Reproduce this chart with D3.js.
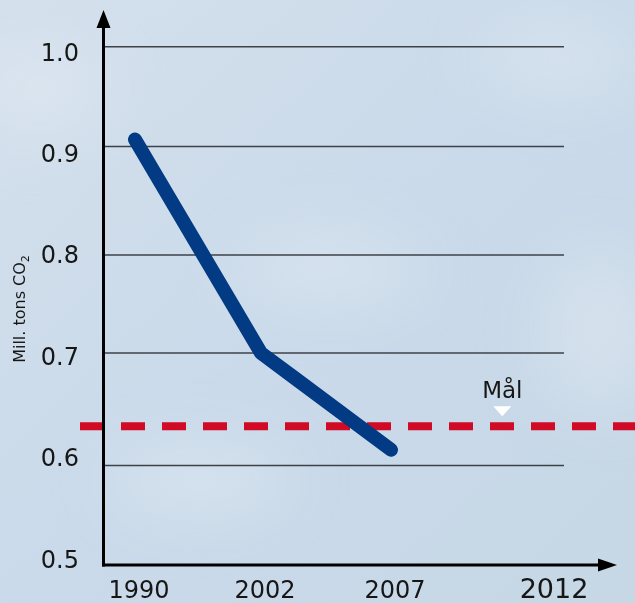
<!DOCTYPE html>
<html>
<head>
<meta charset="utf-8">
<script src="https://cdn.jsdelivr.net/npm/d3@7"></script>
<style>
  body { margin: 0; padding: 0; }
  svg { display: block; }
  text { font-family: "DejaVu Sans", sans-serif; fill: #161616; }
</style>
</head>
<body>
<div id="chart"></div>
<script>
var width = 635;
var height = 603;

// data
var years = [1990, 2002, 2007];
var emissions = [0.907, 0.70, 0.614];
var yearLabels = ["1990", "2002", "2007", "2012"];
var yTicks = [0.5, 0.6, 0.7, 0.8, 0.9, 1.0];
var target = 0.635;
var targetLabel = "Mål";
var targetLabelYear = 2010.5;

// the original artwork is hand placed, so the scales are piecewise
var x = d3.scaleLinear()
    .domain([1990, 2002, 2007, 2012])
    .range([135, 261, 391, 550]);
var y = d3.scaleLinear()
    .domain(yTicks)
    .range([565, 465.5, 353, 255, 146.5, 46.7]);
// tick labels sit evenly spaced, not exactly on the grid lines
var yLabel = d3.scaleLinear()
    .domain([0.5, 1.0])
    .range([559, 52]);

var svg = d3.select('#chart')
    .append('svg')
    .attr('width', width)
    .attr('height', height);

// sky background
var defs = svg.append('defs');
var bg = defs.append('linearGradient')
    .attr('id', 'sky')
    .attr('x1', 0).attr('y1', 0).attr('x2', 1).attr('y2', 1);
bg.append('stop').attr('offset', '0%').attr('stop-color', '#d4e0ec');
bg.append('stop').attr('offset', '50%').attr('stop-color', '#cadaea');
bg.append('stop').attr('offset', '100%').attr('stop-color', '#c6d7e6');
var blur = defs.append('filter').attr('id', 'soft')
    .attr('x', '-50%').attr('y', '-50%').attr('width', '200%').attr('height', '200%');
blur.append('feGaussianBlur').attr('stdDeviation', 30);

svg.append('rect')
    .attr('width', width)
    .attr('height', height)
    .attr('fill', 'url(#sky)');

var clouds = [[40, 90, 70, 50], [330, 270, 90, 40], [560, 60, 80, 40], [200, 480, 90, 40], [600, 330, 60, 80]];
svg.append('g')
    .attr('filter', 'url(#soft)')
    .selectAll('ellipse')
    .data(clouds)
    .enter().append('ellipse')
    .attr('cx', function (d) { return d[0]; })
    .attr('cy', function (d) { return d[1]; })
    .attr('rx', function (d) { return d[2]; })
    .attr('ry', function (d) { return d[3]; })
    .attr('fill', '#e6eef6')
    .attr('opacity', 0.4);

// grid lines
svg.append('g')
    .selectAll('line')
    .data(yTicks.slice(1))
    .enter().append('line')
    .attr('x1', 103)
    .attr('x2', 564)
    .attr('y1', function (d) { return y(d); })
    .attr('y2', function (d) { return y(d); })
    .attr('stroke', '#3c4248')
    .attr('stroke-width', 1.4);

// y tick labels
svg.append('g')
    .selectAll('text')
    .data(yTicks)
    .enter().append('text')
    .attr('x', 79)
    .attr('y', function (d) { return yLabel(d); })
    .attr('dy', '0.36em')
    .attr('text-anchor', 'end')
    .attr('font-size', 24)
    .text(function (d) { return d.toFixed(1); });

// x labels
svg.append('g')
    .selectAll('text')
    .data(yearLabels)
    .enter().append('text')
    .attr('x', function (d) { return x(+d) + 4; })
    .attr('y', 598)
    .attr('text-anchor', 'middle')
    .attr('font-size', function (d, i) { return i === yearLabels.length - 1 ? 27 : 24; })
    .text(function (d) { return d; });

// y axis title
var title = svg.append('text')
    .attr('transform', 'translate(25,309) rotate(-90)')
    .attr('text-anchor', 'middle')
    .attr('font-size', 16);
title.append('tspan').text('Mill. tons CO');
title.append('tspan').attr('font-size', 11).attr('dy', 4).text('2');

// target line
var ty = y(target);
svg.append('line')
    .attr('x1', 80)
    .attr('x2', width)
    .attr('y1', ty)
    .attr('y2', ty)
    .attr('stroke', '#d10a25')
    .attr('stroke-width', 8)
    .attr('stroke-dasharray', '24,17');

var tx = x(targetLabelYear);
svg.append('path')
    .attr('d', 'M' + (tx - 9) + ',' + (ty - 20) + 'L' + (tx + 9) + ',' + (ty - 20) + 'L' + tx + ',' + (ty - 10) + 'Z')
    .attr('fill', '#ffffff');
svg.append('text')
    .attr('x', tx)
    .attr('y', ty - 28)
    .attr('text-anchor', 'middle')
    .attr('font-size', 23)
    .text(targetLabel);

// axes with arrow heads
var x0 = 103.5, y0 = 565;
svg.append('line')
    .attr('x1', x0).attr('x2', x0)
    .attr('y1', y0 + 1.5).attr('y2', 26)
    .attr('stroke', '#000').attr('stroke-width', 3);
svg.append('line')
    .attr('x1', x0 - 1.5).attr('x2', 600)
    .attr('y1', y0).attr('y2', y0)
    .attr('stroke', '#000').attr('stroke-width', 3);
svg.append('path')
    .attr('d', 'M' + x0 + ',10L' + (x0 + 7) + ',28L' + (x0 - 7) + ',28Z')
    .attr('fill', '#000');
svg.append('path')
    .attr('d', 'M617,' + y0 + 'L598,' + (y0 - 6.5) + 'L598,' + (y0 + 6.5) + 'Z')
    .attr('fill', '#000');

// emissions line
var line = d3.line()
    .x(function (d, i) { return x(years[i]); })
    .y(function (d) { return y(d); });

svg.append('path')
    .datum(emissions)
    .attr('d', line)
    .attr('fill', 'none')
    .attr('stroke', '#033a84')
    .attr('stroke-width', 14)
    .attr('stroke-linecap', 'round')
    .attr('stroke-linejoin', 'round');
</script>
</body>
</html>
